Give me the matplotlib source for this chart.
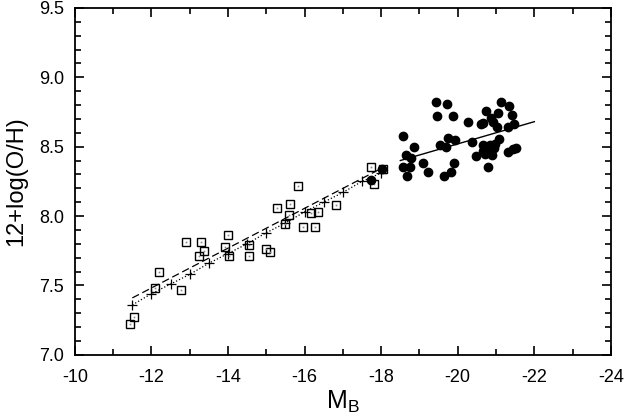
import numpy as np
import matplotlib
matplotlib.use("Agg")
import matplotlib.pyplot as plt
from matplotlib.ticker import MultipleLocator

plt.rcParams['font.family'] = ['Liberation Sans', 'DejaVu Sans']
plt.rcParams['axes.unicode_minus'] = False

# open squares (dwarf galaxies)
sq_mb = [-11.44, -11.54, -12.09, -12.19, -12.78, -12.90, -13.29, -13.36, -13.25,
         -14.00, -13.92, -14.02, -14.55, -14.54, -14.98, -15.09, -15.29, -15.63,
         -15.60, -15.48, -15.82, -16.16, -16.35, -15.97, -16.27, -16.83, -17.73,
         -18.05, -17.81]
sq_oh = [7.22, 7.27, 7.485, 7.60, 7.47, 7.81, 7.81, 7.75, 7.71,
         7.86, 7.78, 7.71, 7.79, 7.71, 7.76, 7.74, 8.06, 8.09,
         8.01, 7.94, 8.22, 8.02, 8.03, 7.92, 7.92, 8.08, 8.355,
         8.34, 8.23]

# filled circles (spirals)
ci_mb = [-17.74, -18.01, -18.56, -18.86, -18.66, -18.77, -18.57, -18.75, -18.67,
         -19.10, -19.23, -19.44, -19.72, -19.47, -19.87, -20.26, -19.53, -19.69,
         -19.75, -19.92, -19.89, -19.82, -19.64, -21.14, -21.34, -20.73, -21.06,
         -21.43, -20.88, -20.66, -20.60, -20.93, -21.02, -21.30, -21.47, -20.38,
         -20.66, -20.84, -20.97, -21.08, -20.66, -20.79, -20.95, -20.47, -20.71,
         -20.90, -21.32, -21.45, -21.53, -20.78]
ci_oh = [8.26, 8.34, 8.58, 8.50, 8.44, 8.42, 8.35, 8.35, 8.29,
         8.385, 8.32, 8.82, 8.81, 8.72, 8.72, 8.68, 8.51, 8.50,
         8.56, 8.55, 8.38, 8.32, 8.29, 8.82, 8.79, 8.76, 8.74,
         8.73, 8.71, 8.67, 8.66, 8.68, 8.64, 8.64, 8.66, 8.53,
         8.51, 8.51, 8.52, 8.555, 8.47, 8.48, 8.49, 8.43, 8.445,
         8.44, 8.46, 8.48, 8.49, 8.35]

# plus markers joined by dotted line
pl_mb = [-11.5, -12.0, -12.5, -13.0, -13.5, -14.0, -14.5, -15.0, -15.5,
         -16.0, -16.5, -17.0, -17.5, -18.0]
pl_oh = [7.36, 7.44, 7.51, 7.58, 7.66, 7.73, 7.80, 7.88, 7.95,
         8.03, 8.10, 8.17, 8.25, 8.31]

# linear fits (end points)
dash_mb = [-11.5, -18.05]
dash_oh = [7.41, 8.35]
solid_mb = [-18.5, -22.0]
solid_oh = [8.40, 8.68]

fig = plt.figure(figsize=(6.24, 4.15), dpi=100)
ax = fig.add_axes([0.120, 0.145, 0.859, 0.836])

ax.plot(dash_mb, dash_oh, color='black', ls=(0, (6, 3)), lw=0.9)
ax.plot(pl_mb, pl_oh, color='black', ls=':', lw=0.9, marker='+', ms=7, mew=0.9)
ax.plot(solid_mb, solid_oh, color='black', lw=1.0)
ax.plot(sq_mb, sq_oh, ls='none', marker='s', ms=6, mfc='none', mec='black', mew=1.0)
ax.plot(sq_mb, sq_oh, ls='none', marker='s', ms=1.2, mfc='#888888', mec='none')
ax.plot(ci_mb, ci_oh, ls='none', marker='o', ms=6, mfc='black', mec='black')

ax.set_xlim(-10, -24)
ax.set_ylim(7.0, 9.5)
ax.xaxis.set_major_locator(MultipleLocator(2))
ax.xaxis.set_minor_locator(MultipleLocator(1))
ax.yaxis.set_major_locator(MultipleLocator(0.5))
ax.yaxis.set_minor_locator(MultipleLocator(0.1))
ax.yaxis.set_major_formatter(matplotlib.ticker.FormatStrFormatter('%.1f'))
ax.tick_params(which='both', direction='in', top=True, right=True, width=1.2)
ax.tick_params(which='major', length=6.5, labelsize=13)
ax.tick_params(which='minor', length=4)
ax.tick_params(axis='x', pad=10)
ax.tick_params(axis='y', pad=8)
for s in ax.spines.values():
    s.set_linewidth(1.3)

ax.set_xlabel(r'M$_\mathregular{B}$', fontsize=18, labelpad=2)
ax.set_ylabel('12+log(O/H)', fontsize=17, labelpad=8)

fig.savefig('out.png', dpi=100)
